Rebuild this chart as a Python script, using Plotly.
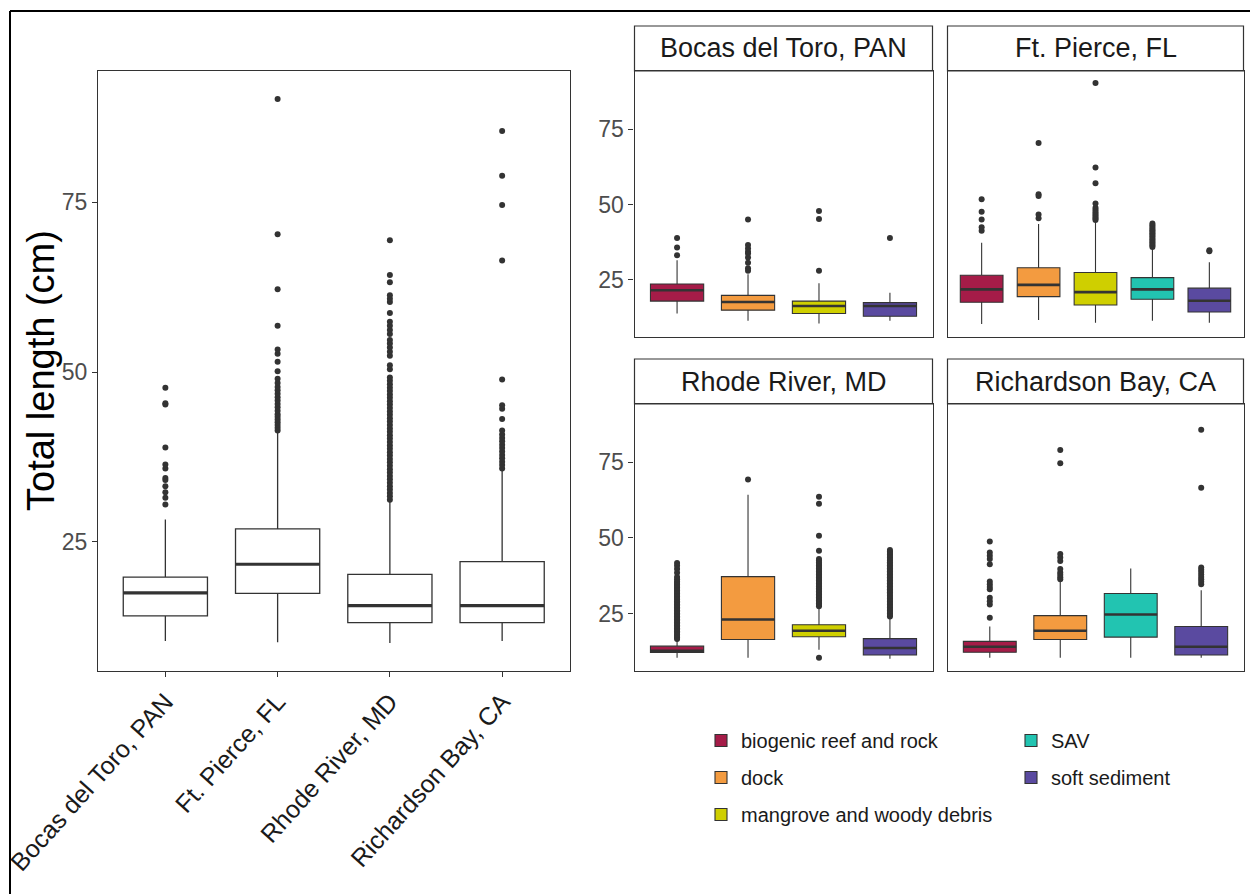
import plotly.graph_objects as go

# ---------------- data: left panel (all habitats pooled, by site) ----------------
sites = ["Bocas del Toro, PAN", "Ft. Pierce, FL", "Rhode River, MD", "Richardson Bay, CA"]
site_q1 = [14.1, 17.4, 13.1, 13.1]
site_median = [17.5, 21.7, 15.6, 15.6]
site_q3 = [19.8, 26.9, 20.2, 22.1]
site_lower = [10.4, 10.2, 10.1, 10.4]
site_upper = [28.3, 41.1, 31.0, 35.5]

out_site_bocas = [30.5, 31.5, 32.3, 33.2, 34.1, 34.4, 35.8, 36.4, 38.9, 45.2, 45.4, 47.7]
out_site_ftpierce = [41.4, 41.8, 42.2, 42.6, 43.0, 43.4, 43.8, 44.3, 44.8, 45.3, 45.8, 46.3, 46.8,
                     47.3, 47.8, 48.4, 49.0, 50.1, 51.5, 52.7, 53.3, 56.8, 62.2, 70.3, 90.2]
out_site_rhode = [31.2, 31.7, 32.2, 32.7, 33.2, 33.7, 34.2, 34.7, 35.2, 35.7, 36.2, 36.7, 37.2,
                  37.7, 38.2, 38.7, 39.2, 39.7, 40.2, 40.7, 41.2, 41.7, 42.2, 42.7, 43.2, 43.7,
                  44.2, 44.7, 45.2, 45.7, 46.2, 46.7, 47.2, 47.7, 48.2, 48.7, 49.2, 50.4, 51.0,
                  52.4, 53.0, 53.6, 54.2, 54.7, 55.6, 56.2, 56.8, 57.4, 58.7, 60.3, 60.8, 61.3,
                  63.2, 64.3, 69.4]
out_site_richardson = [35.8, 36.3, 36.8, 37.3, 37.8, 38.3, 38.8, 39.3, 39.8, 40.3, 40.8, 41.4,
                       43.1, 44.6, 45.1, 48.9, 66.4, 74.6, 78.9, 85.5]

# ---------------- habitats ----------------
habitats = ["biogenic reef and rock", "dock", "mangrove and woody debris", "SAV", "soft sediment"]
habitat_colors = ["#A51C48", "#F39B40", "#CFCF00", "#22C4B1", "#5A4AA0"]
habitat_legend = ["legend", "legend", "legend", "legend2", "legend2"]

# ---------------- facet: Bocas del Toro ----------------
bocas_hab = ["biogenic reef and rock", "dock", "mangrove and woody debris", "soft sediment"]
bocas_q1 = [17.9, 14.9, 13.8, 12.9]
bocas_med = [21.5, 17.6, 16.3, 16.3]
bocas_q3 = [23.6, 19.8, 17.9, 17.4]
bocas_lo = [13.8, 11.4, 10.5, 11.4]
bocas_hi = [31.5, 26.8, 23.8, 20.7]
bocas_out_biogenic = [33.1, 35.7, 38.9]
bocas_out_dock = [28.0, 28.8, 30.6, 32.4, 33.7, 34.3, 35.4, 36.5, 45.0]
bocas_out_mangrove = [28.0, 45.2, 47.8]
bocas_out_soft = [38.9]

# ---------------- facet: Ft. Pierce ----------------
ftp_hab = ["biogenic reef and rock", "dock", "mangrove and woody debris", "SAV", "soft sediment"]
ftp_q1 = [17.5, 19.4, 16.6, 18.5, 14.3]
ftp_med = [21.8, 23.3, 20.9, 21.8, 18.0]
ftp_q3 = [26.5, 29.0, 27.4, 25.7, 22.2]
ftp_lo = [10.3, 11.6, 10.7, 11.4, 10.7]
ftp_hi = [37.3, 43.5, 44.2, 35.6, 30.8]
ftp_out_biogenic = [41.3, 42.4, 45.0, 47.6, 51.7]
ftp_out_dock = [45.4, 46.7, 52.8, 53.4, 70.4]
ftp_out_mangrove = [44.8, 45.3, 45.8, 46.4, 47.0, 47.6, 48.2, 48.9, 50.3, 57.0, 62.3, 90.3]
ftp_out_sav = [35.9, 36.4, 36.9, 37.4, 37.9, 38.4, 38.9, 39.4, 39.9, 40.4, 40.9, 41.4, 41.9,
               42.5, 43.1, 43.7]
ftp_out_soft = [34.5, 34.8]

# ---------------- facet: Rhode River ----------------
rr_hab = ["biogenic reef and rock", "dock", "mangrove and woody debris", "soft sediment"]
rr_q1 = [12.1, 16.4, 17.3, 11.3]
rr_med = [12.7, 23.0, 19.3, 13.6]
rr_q3 = [14.2, 37.2, 21.3, 16.7]
rr_lo = [10.4, 10.4, 13.0, 10.0]
rr_hi = [16.3, 64.3, 26.9, 23.6]
rr_out_biogenic = [16.6, 17.1, 17.6, 18.1, 18.6, 19.1, 19.6, 20.1, 20.6, 21.1, 21.6, 22.1, 22.6,
                   23.1, 23.6, 24.1, 24.6, 25.1, 25.6, 26.1, 26.6, 27.1, 27.6, 28.1, 28.6, 29.1,
                   29.6, 30.1, 30.6, 31.1, 31.6, 32.1, 32.6, 33.1, 33.6, 34.1, 34.6, 35.1, 35.6,
                   36.3, 37.1, 38.5, 39.7, 40.8, 41.7]
rr_out_dock = [69.3]
rr_out_mangrove = [10.4, 27.4, 27.9, 28.4, 28.9, 29.4, 29.9, 30.4, 30.9, 31.4, 31.9, 32.4, 32.9,
                   33.4, 33.9, 34.4, 34.9, 35.4, 35.9, 36.4, 36.9, 37.4, 37.9, 38.4, 38.9, 39.4,
                   39.9, 40.4, 40.9, 41.4, 41.9, 42.5, 43.0, 45.8, 50.7, 61.3, 63.6]
rr_out_soft = [24.0, 24.5, 25.0, 25.5, 26.0, 26.5, 27.0, 27.5, 28.0, 28.5, 29.0, 29.5, 30.0,
               30.5, 31.0, 31.5, 32.0, 32.5, 33.0, 33.5, 34.0, 34.5, 35.0, 35.5, 36.0, 36.5,
               37.0, 37.5, 38.0, 38.5, 39.0, 39.5, 40.0, 40.5, 41.0, 41.5, 42.0, 42.5, 43.0,
               43.5, 44.0, 44.5, 45.0, 45.5, 46.0]

# ---------------- facet: Richardson Bay ----------------
rb_hab = ["biogenic reef and rock", "dock", "SAV", "soft sediment"]
rb_q1 = [12.2, 16.4, 17.2, 11.3]
rb_med = [14.0, 19.3, 24.7, 14.0]
rb_q3 = [15.8, 24.3, 31.6, 20.7]
rb_lo = [10.4, 10.4, 10.4, 10.4]
rb_hi = [20.7, 35.4, 39.9, 32.7]
rb_out_biogenic = [23.6, 28.0, 29.1, 30.2, 33.0, 33.8, 34.7, 35.6, 41.3, 43.0, 44.1, 45.2, 48.8]
rb_out_dock = [36.3, 37.0, 37.8, 38.6, 39.7, 42.4, 43.5, 44.7, 74.7, 79.1]
rb_out_sav = []
rb_out_soft = [34.7, 35.5, 36.3, 37.1, 37.9, 38.7, 39.5, 40.2, 66.6, 85.8]

y_title = "Total length (cm)"

# ---------------- layout helpers ----------------
W, H = 1250, 894
FONT = "Liberation Sans, Arial, sans-serif"
DARK = "#333333"


def px_x(v):
    return v / W


def px_y(v):
    return 1 - v / H


all_vals = (site_lower + site_upper + out_site_bocas + out_site_ftpierce + out_site_rhode
            + out_site_richardson + ftp_out_mangrove + rr_out_mangrove + rr_lo)
vmin, vmax = min(all_vals), max(all_vals)
pad = 0.05 * (vmax - vmin)
yrange = [vmin - pad, vmax + pad]

fig = go.Figure()

# ---------------- left panel ----------------
site_outliers = [out_site_bocas, out_site_ftpierce, out_site_rhode, out_site_richardson]
for s, vals in zip(sites, site_outliers):
    fig.add_trace(go.Scatter(x=[s] * len(vals), y=vals, mode="markers",
                             marker=dict(color=DARK, size=6), showlegend=False,
                             xaxis="x", yaxis="y", hoverinfo="y"))
fig.add_trace(go.Box(x=sites, q1=site_q1, median=site_median, q3=site_q3,
                     lowerfence=site_lower, upperfence=site_upper,
                     fillcolor="white", line=dict(color=DARK, width=1.3),
                     whiskerwidth=0, width=0.75, boxpoints=False, showlegend=False,
                     xaxis="x", yaxis="y"))
fig.add_trace(go.Box(x=sites, q1=site_median, median=site_median, q3=site_median,
                     lowerfence=site_median, upperfence=site_median,
                     fillcolor="rgba(0,0,0,0)", line=dict(color=DARK, width=3.2),
                     whiskerwidth=0, width=0.75, boxpoints=False, showlegend=False,
                     hoverinfo="skip", xaxis="x", yaxis="y"))

# ---------------- facets ----------------
facets = [
    ("Bocas del Toro, PAN", bocas_hab, bocas_q1, bocas_med, bocas_q3, bocas_lo, bocas_hi,
     [bocas_out_biogenic, bocas_out_dock, bocas_out_mangrove, bocas_out_soft], "x2", "y2"),
    ("Ft. Pierce, FL", ftp_hab, ftp_q1, ftp_med, ftp_q3, ftp_lo, ftp_hi,
     [ftp_out_biogenic, ftp_out_dock, ftp_out_mangrove, ftp_out_sav, ftp_out_soft], "x3", "y3"),
    ("Rhode River, MD", rr_hab, rr_q1, rr_med, rr_q3, rr_lo, rr_hi,
     [rr_out_biogenic, rr_out_dock, rr_out_mangrove, rr_out_soft], "x4", "y4"),
    ("Richardson Bay, CA", rb_hab, rb_q1, rb_med, rb_q3, rb_lo, rb_hi,
     [rb_out_biogenic, rb_out_dock, rb_out_sav, rb_out_soft], "x5", "y5"),
]

legend_done = set()
for title, habs, q1, med, q3, lo, hi, outs, xa, ya in facets:
    for i, h in enumerate(habs):
        vals = outs[i]
        if vals:
            fig.add_trace(go.Scatter(x=[h] * len(vals), y=vals, mode="markers",
                                     marker=dict(color=DARK, size=6), showlegend=False,
                                     xaxis=xa, yaxis=ya, hoverinfo="y"))
        k = habitats.index(h)
        show = h not in legend_done
        legend_done.add(h)
        fig.add_trace(go.Box(x=[h], q1=[q1[i]], median=[med[i]], q3=[q3[i]],
                             lowerfence=[lo[i]], upperfence=[hi[i]],
                             fillcolor=habitat_colors[k], line=dict(color=DARK, width=1.1),
                             whiskerwidth=0, width=0.75, boxpoints=False,
                             name=h, legendgroup=h, showlegend=show,
                             legend=habitat_legend[k], legendrank=k + 1,
                             xaxis=xa, yaxis=ya))
        fig.add_trace(go.Box(x=[h], q1=[med[i]], median=[med[i]], q3=[med[i]],
                             lowerfence=[med[i]], upperfence=[med[i]],
                             fillcolor="rgba(0,0,0,0)", line=dict(color=DARK, width=2.6),
                             whiskerwidth=0, width=0.75, boxpoints=False, showlegend=False,
                             legendgroup=h, legend=habitat_legend[k], hoverinfo="skip",
                             xaxis=xa, yaxis=ya))

# ---------------- axes ----------------
left_dom_x = [px_x(98), px_x(569.5)]
left_dom_y = [px_y(671), px_y(71)]
col_x = [[px_x(634.5), px_x(932.5)], [px_x(947.5), px_x(1243.5)]]
row_y = [[px_y(337), px_y(71)], [px_y(671), px_y(404)]]
strip_y = [[px_y(71), px_y(26)], [px_y(404), px_y(359)]]

ytick_vals = [25, 50, 75]

layout = dict(
    width=W, height=H, margin=dict(l=0, r=0, t=0, b=0, autoexpand=False),
    paper_bgcolor="white", plot_bgcolor="white",
    font=dict(family=FONT, color="#1A1A1A"),
    boxmode="overlay",
    xaxis=dict(domain=left_dom_x, anchor="y", type="category", categoryorder="array",
               categoryarray=sites, range=[-0.6, len(sites) - 0.4], automargin=False,
               showline=True, mirror=True, linecolor=DARK, linewidth=1.2,
               ticks="outside", ticklen=5, tickcolor=DARK, tickwidth=1.2,
               tickangle=-48, tickfont=dict(size=25, color="#1A1A1A", family=FONT),
               showgrid=False, zeroline=False, fixedrange=True),
    yaxis=dict(domain=left_dom_y, anchor="x", range=yrange, tickvals=ytick_vals,
               automargin=False,
               showline=True, mirror=True, linecolor=DARK, linewidth=1.2,
               ticks="outside", ticklen=5, tickcolor=DARK, tickwidth=1.2,
               tickfont=dict(size=23, color="#4D4D4D", family=FONT),
               showgrid=False, zeroline=False, fixedrange=True),
)

shapes = []
annotations = []
for idx, (title, habs, *_rest) in enumerate(facets):
    r, c = divmod(idx, 2)
    n = idx + 2
    layout[f"xaxis{n}"] = dict(domain=col_x[c], anchor=f"y{n}", type="category",
                               categoryorder="array", categoryarray=habs,
                               range=[-0.6, len(habs) - 0.4], automargin=False,
                               showline=True, mirror=True, linecolor=DARK, linewidth=1.2,
                               ticks="", showticklabels=False, showgrid=False,
                               zeroline=False, fixedrange=True)
    layout[f"yaxis{n}"] = dict(domain=row_y[r], anchor=f"x{n}", range=yrange,
                               tickvals=ytick_vals, automargin=False,
                               showline=True, mirror=True, linecolor=DARK, linewidth=1.2,
                               ticks="outside" if c == 0 else "", ticklen=5, tickcolor=DARK,
                               tickwidth=1.2, showticklabels=(c == 0),
                               tickfont=dict(size=23, color="#4D4D4D", family=FONT),
                               showgrid=False, zeroline=False, fixedrange=True)
    shapes.append(dict(type="rect", xref="paper", yref="paper",
                       x0=col_x[c][0], x1=col_x[c][1], y0=strip_y[r][0], y1=strip_y[r][1],
                       line=dict(color=DARK, width=1.2), fillcolor="white", layer="below"))
    annotations.append(dict(text=title, xref="paper", yref="paper",
                            x=(col_x[c][0] + col_x[c][1]) / 2,
                            y=(strip_y[r][0] + strip_y[r][1]) / 2,
                            xanchor="center", yanchor="middle", showarrow=False,
                            font=dict(size=27, color="#1A1A1A", family=FONT)))

# y-axis title of the left panel
annotations.append(dict(text=y_title, xref="paper", yref="paper",
                        x=px_x(41), y=(left_dom_y[0] + left_dom_y[1]) / 2,
                        xanchor="center", yanchor="middle", textangle=-90, showarrow=False,
                        font=dict(size=38, color="black", family=FONT)))

# outer frame lines (top and left) of the composed figure
shapes.append(dict(type="line", xref="paper", yref="paper", x0=px_x(10), x1=1,
                   y0=px_y(11), y1=px_y(11), line=dict(color="black", width=2)))
shapes.append(dict(type="line", xref="paper", yref="paper", x0=px_x(10), x1=px_x(10),
                   y0=0, y1=px_y(11), line=dict(color="black", width=2)))

layout["shapes"] = shapes
layout["annotations"] = annotations
legend_common = dict(orientation="v", xanchor="left", yanchor="top",
                     font=dict(size=20, color="#1A1A1A", family=FONT),
                     bgcolor="rgba(0,0,0,0)", traceorder="grouped", tracegroupgap=8,
                     itemwidth=30)
layout["legend"] = dict(x=px_x(701), y=px_y(721), **legend_common)
layout["legend2"] = dict(x=px_x(1011), y=px_y(721), **legend_common)

fig.update_layout(**layout)
fig.write_html("out.html", config={"displayModeBar": False},
               post_script="document.body.style.margin='0px';")
